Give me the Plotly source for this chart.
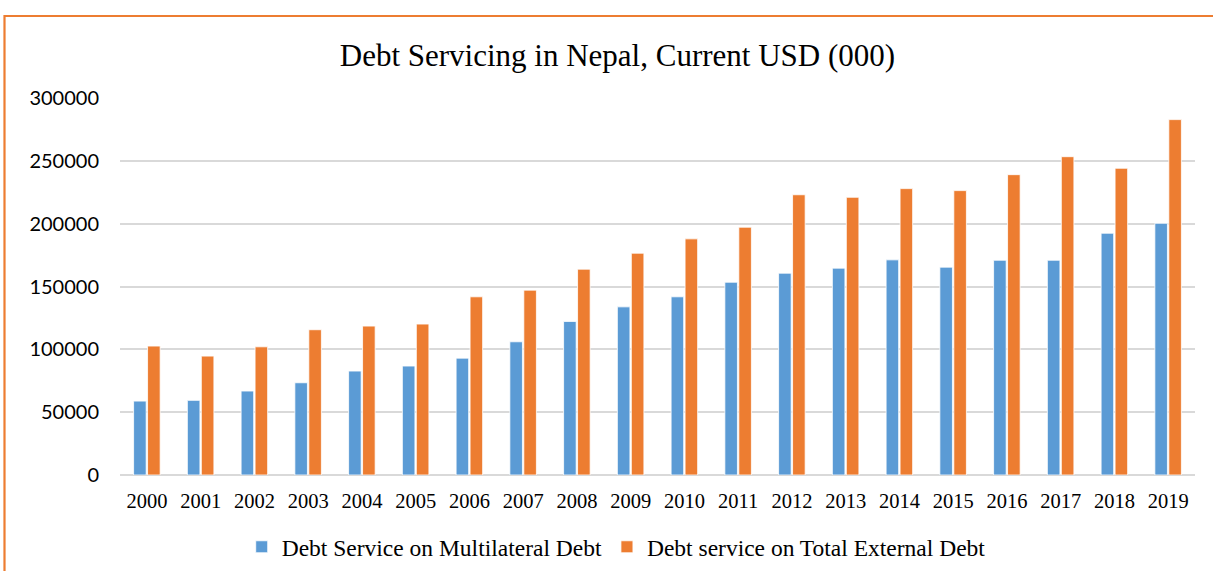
import plotly.graph_objects as go

years = [str(y) for y in range(2000, 2020)]
multilateral = [58800, 59400, 66800, 73400, 82700, 86700, 93000, 106000, 122200, 133800,
                141800, 153400, 160600, 164600, 171200, 165400, 170900, 170900, 192400, 200300]
total_external = [102600, 94600, 102000, 115600, 118500, 120100, 141800, 147100, 163800, 176500,
                  187900, 197200, 223000, 221000, 227900, 226300, 239000, 253300, 244100, 282800]
y_ticks = [0, 50000, 100000, 150000, 200000, 250000, 300000]

BLUE = "#5B9BD5"
ORANGE = "#ED7D31"
GRID = "#D9D9D9"

fig = go.Figure()
fig.add_trace(go.Bar(x=years, y=multilateral, name="Debt Service on Multilateral Debt",
                     marker=dict(color=BLUE, line=dict(color="white", width=0.8))))
fig.add_trace(go.Bar(x=years, y=total_external, name="Debt service on Total External Debt",
                     marker=dict(color=ORANGE, line=dict(color="white", width=0.8))))

fig.update_layout(
    width=1213, height=571,
    margin=dict(l=120, r=18, t=98, b=96),
    paper_bgcolor="white", plot_bgcolor="white",
    barmode="group", bargap=0.48, bargroupgap=0.1,
    title=dict(text="Debt Servicing in Nepal, Current USD (000)",
               font=dict(family="Liberation Serif", size=31, color="black"),
               x=0.509, xanchor="center", xref="container",
               y=1 - 55 / 571, yanchor="middle", yref="container"),
    showlegend=True,
    legend=dict(orientation="h", xref="container", yref="container",
                x=0.508, xanchor="center", y=1 - 547 / 571, yanchor="middle",
                font=dict(family="Liberation Serif", size=23.5, color="black"),
                itemwidth=30, traceorder="normal"),
    shapes=[dict(type="rect", xref="paper", yref="paper",
                 x0=(4.5 - 120) / 1075, x1=1.2, y0=-0.6, y1=(475 - 16) / 377,
                 line=dict(color=ORANGE, width=2.2), fillcolor="rgba(0,0,0,0)", layer="above")],
)
fig.update_xaxes(type="category", showgrid=False, showline=False, ticks="",
                 tickfont=dict(family="Liberation Serif", size=20.5, color="black"),
                 ticklabelstandoff=11)
fig.update_yaxes(range=[0, 300000], tickvals=y_ticks, ticktext=[str(v) for v in y_ticks],
                 showgrid=True, gridcolor=GRID, gridwidth=1.5,
                 zeroline=True, zerolinecolor=GRID, zerolinewidth=1.5,
                 tickfont=dict(family="Lato", size=20, color="black"),
                 ticklabelstandoff=20)

fig.write_html("out.html", config={"displayModeBar": False},
               post_script="document.body.style.margin='0px';document.body.style.padding='0px';")
